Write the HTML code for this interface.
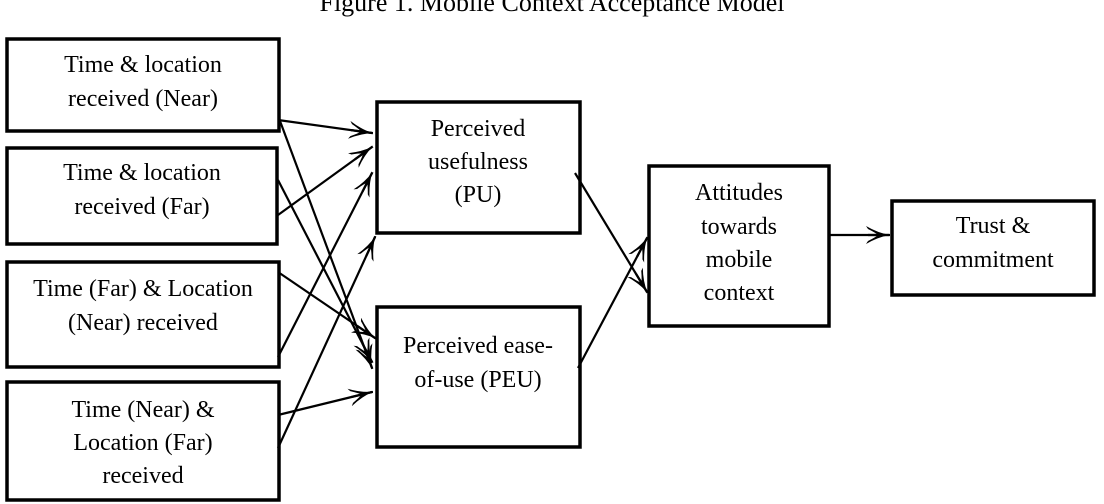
<!DOCTYPE html>
<html><head><style>
html,body{margin:0;padding:0;background:#fff;}
svg{display:block;}
text{font-family:"Liberation Serif",serif;font-size:24px;fill:#000;text-anchor:middle;}
</style></head><body>
<svg width="1104" height="504" viewBox="0 0 1104 504" xmlns="http://www.w3.org/2000/svg">
<defs>
<marker id="a" viewBox="0 0 24 18" refX="23" refY="9" markerWidth="24" markerHeight="18" markerUnits="userSpaceOnUse" orient="auto">
<path d="M0,0 Q12,7 24,9 Q12,11 0,18 L2,15 Q10,11 12,9 Q10,7 2,3 Z" fill="#000"/>
<path d="M2,9 L24,9" stroke="#000" stroke-width="2.2"/>
</marker>
</defs>
<text x="552" y="11" style="font-size:26px">Figure 1. Mobile Context Acceptance Model</text>
<g fill="none" stroke="#000" stroke-width="3.5">
<rect x="7" y="39" width="272" height="92"/>
<rect x="7" y="148" width="270" height="96"/>
<rect x="7" y="262" width="272" height="105"/>
<rect x="7" y="382" width="272" height="118"/>
<rect x="377" y="102" width="203" height="131"/>
<rect x="377" y="307" width="203" height="140"/>
<rect x="649" y="166" width="180" height="160"/>
<rect x="892" y="201" width="202" height="94"/>
</g>
<g stroke="#000" stroke-width="2.2" fill="none" marker-end="url(#a)">
<line x1="278" y1="120" x2="372" y2="133"/>
<line x1="280" y1="121" x2="372" y2="368"/>
<line x1="278" y1="215" x2="372" y2="147"/>
<line x1="278" y1="180" x2="372" y2="362"/>
<line x1="278" y1="272" x2="375" y2="338"/>
<line x1="278" y1="357" x2="372" y2="173"/>
<line x1="278" y1="415" x2="372" y2="392"/>
<line x1="278" y1="448" x2="375" y2="237"/>
<line x1="575" y1="173" x2="647" y2="292"/>
<line x1="578" y1="368" x2="647" y2="238"/>
<line x1="830" y1="235" x2="889" y2="235"/>
</g>
<text x="143" y="72">Time &amp; location</text>
<text x="143" y="106">received (Near)</text>
<text x="142" y="180">Time &amp; location</text>
<text x="142" y="214">received (Far)</text>
<text x="143" y="296">Time (Far) &amp; Location</text>
<text x="143" y="330">(Near) received</text>
<text x="143" y="417">Time (Near) &amp;</text>
<text x="143" y="450">Location (Far)</text>
<text x="143" y="483">received</text>
<text x="478" y="136">Perceived</text>
<text x="478" y="169">usefulness</text>
<text x="478" y="202">(PU)</text>
<text x="478" y="353">Perceived ease-</text>
<text x="478" y="387">of-use (PEU)</text>
<text x="739" y="200">Attitudes</text>
<text x="739" y="234">towards</text>
<text x="739" y="267">mobile</text>
<text x="739" y="300">context</text>
<text x="993" y="233">Trust &amp;</text>
<text x="993" y="267">commitment</text>
</svg>
</body></html>
